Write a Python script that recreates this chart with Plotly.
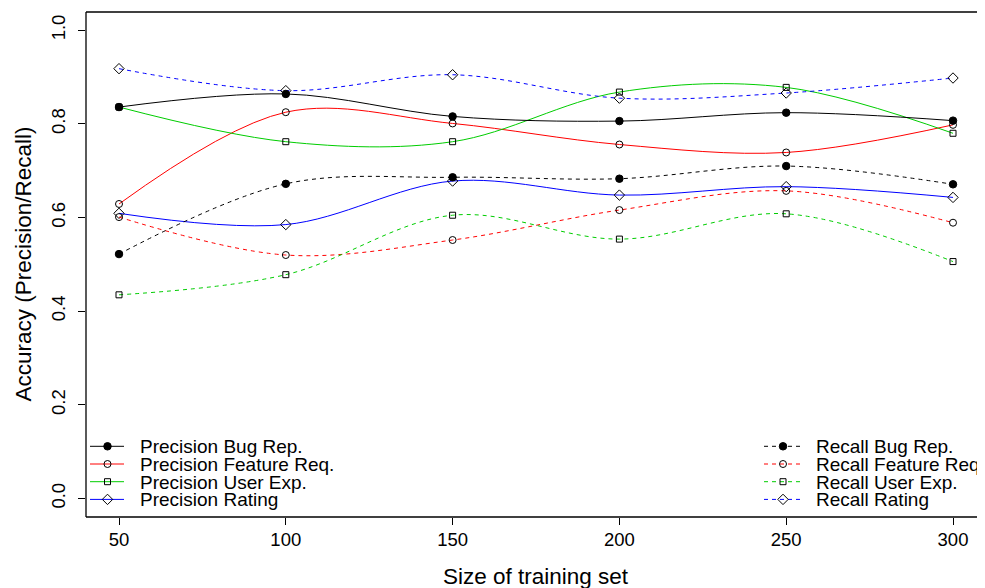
import plotly.graph_objects as go

sizes = [50, 100, 150, 200, 250, 300]

prec_bug = [0.836, 0.864, 0.816, 0.806, 0.824, 0.807]
prec_feat = [0.629, 0.825, 0.801, 0.756, 0.739, 0.798]
prec_ux = [0.836, 0.762, 0.762, 0.868, 0.878, 0.780]
prec_rating = [0.609, 0.585, 0.678, 0.648, 0.666, 0.643]

rec_bug = [0.522, 0.672, 0.686, 0.683, 0.710, 0.671]
rec_feat = [0.601, 0.520, 0.552, 0.616, 0.657, 0.589]
rec_ux = [0.435, 0.478, 0.605, 0.554, 0.608, 0.506]
rec_rating = [0.918, 0.871, 0.905, 0.855, 0.866, 0.898]

x_ticks = [50, 100, 150, 200, 250, 300]
y_ticks = [0.0, 0.2, 0.4, 0.6, 0.8, 1.0]
y_tick_labels = ["0.0", "0.2", "0.4", "0.6", "0.8", "1.0"]

FONT = "Liberation Sans, Arial, Helvetica, sans-serif"
GREEN = "#00CD00"
DASH = "4px,4px"

# the page body adds an 8px offset; figure is sized so it fills the window
OFF = 8
W, H = 985 - OFF, 588 - OFF
PAGE_W, PAGE_H = 985, 588
PL, PT, PB = 86, 12, 517          # plot box on the page (px)
ML, MT, MB = PL - OFF, PT - OFF, H - (PB - OFF)
PW, PH = PAGE_W - PL, PB - PT

# name, values, colour, dash, symbol, marker size, legend column
series = [
    ("Precision Bug Rep.", prec_bug, "black", "solid", "circle", 7.5, 0),
    ("Precision Feature Req.", prec_feat, "red", "solid", "circle-open", 7, 0),
    ("Precision User Exp.", prec_ux, GREEN, "solid", "square-open", 6, 0),
    ("Precision Rating", prec_rating, "blue", "solid", "diamond-open", 8, 0),
    ("Recall Bug Rep.", rec_bug, "black", DASH, "circle", 7.5, 1),
    ("Recall Feature Req.", rec_feat, "red", DASH, "circle-open", 7, 1),
    ("Recall User Exp.", rec_ux, GREEN, DASH, "square-open", 6, 1),
    ("Recall Rating", rec_rating, "blue", DASH, "diamond-open", 8, 1),
]

fig = go.Figure()
draw_order = [1, 2, 3, 5, 6, 7, 4, 0]
for i in draw_order:
    name, vals, color, dash, sym, msize, col = series[i]
    fig.add_trace(go.Scatter(
        x=sizes, y=vals, name=name, mode="lines+markers", showlegend=False,
        line=dict(color=color, width=1, dash=dash, shape="spline", smoothing=1.0),
        marker=dict(symbol=sym, size=msize, color="black", line=dict(color="black", width=1)),
    ))

# hand-built legend (R style, tight row spacing) on a page-pixel overlay
leg_cols = [dict(x0=90, x1=124, xm=107.5, xt=138), dict(x0=764, x1=802, xm=783, xt=814)]
leg_rows = [446.3, 464.0, 481.7, 499.4]
row_count = [0, 0]
for name, vals, color, dash, sym, msize, col in series:
    c = leg_cols[col]
    yrow = PAGE_H - leg_rows[row_count[col]]
    row_count[col] += 1
    fig.add_trace(go.Scatter(
        x=[c["x0"], c["x1"]], y=[yrow, yrow], mode="lines", showlegend=False,
        line=dict(color=color, width=1, dash=dash), xaxis="x2", yaxis="y2", hoverinfo="skip",
    ))
    fig.add_trace(go.Scatter(
        x=[c["xm"]], y=[yrow], mode="markers", showlegend=False,
        marker=dict(symbol=sym, size=msize, color="black", line=dict(color="black", width=1)),
        xaxis="x2", yaxis="y2", hoverinfo="skip",
    ))
    fig.add_annotation(
        x=c["xt"], y=yrow - 0.5, xref="x2", yref="y2", text=name, showarrow=False,
        xanchor="left", yanchor="middle", font=dict(size=19, color="black", family=FONT),
    )

x_per_px = 250 / (953 - 119)
fig.update_layout(
    width=W, height=H,
    margin=dict(l=ML, r=0, t=MT, b=MB),
    paper_bgcolor="white", plot_bgcolor="white",
    font=dict(family=FONT, size=18.5, color="black"),
    showlegend=False,
    xaxis=dict(
        range=[50 - (119 - PL) * x_per_px, 50 + (PAGE_W - 119) * x_per_px],
        tickmode="array", tickvals=x_ticks,
        ticks="outside", ticklen=7, tickcolor="black", showgrid=False,
        zeroline=False, showline=False, automargin=False,
        tickfont=dict(size=18.5), ticklabelstandoff=-1,
    ),
    yaxis=dict(
        range=[-0.0395, 1.039], tickmode="array", tickvals=y_ticks,
        ticktext=y_tick_labels, tickangle=-90,
        ticks="outside", ticklen=7, tickcolor="black", showgrid=False,
        zeroline=False, showline=False, automargin=False,
        tickfont=dict(size=18.5), ticklabelstandoff=6,
    ),
    xaxis2=dict(overlaying="x", range=[PL, PAGE_W], visible=False, fixedrange=True),
    yaxis2=dict(overlaying="y", range=[PAGE_H - PB, PAGE_H - PT], visible=False, fixedrange=True),
)

# axis titles
fig.add_annotation(
    x=(536 - PL) / PW, y=(PB - 576) / PH, xref="paper", yref="paper",
    text="Size of training set", showarrow=False, xanchor="center", yanchor="middle",
    font=dict(size=22.5, color="black", family=FONT),
)
fig.add_annotation(
    x=(23 - PL) / PW, y=0.5, xref="paper", yref="paper",
    text="Accuracy (Precision/Recall)", showarrow=False, textangle=-90,
    xanchor="center", yanchor="middle",
    font=dict(size=22.5, color="black", family=FONT),
)

# plot frame (right side falls outside the picture)
for x0, y0, x1, y1 in [(0, 0, 1.01, 0), (0, 1, 1.01, 1), (0, 0, 0, 1)]:
    fig.add_shape(type="line", xref="paper", yref="paper", x0=x0, y0=y0, x1=x1, y1=y1,
                  line=dict(color="black", width=1.3))

fig.write_html("out.html")
